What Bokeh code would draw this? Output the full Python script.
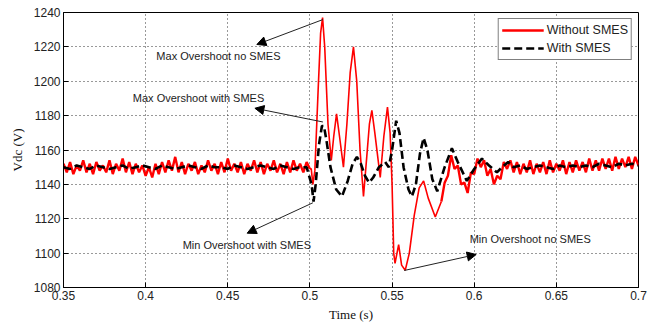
import numpy as np
from bokeh.plotting import figure
from bokeh.models import (Range1d, FixedTicker, Legend, LegendItem,
                          Arrow, NormalHead, Label)
from bokeh.embed import file_html
from bokeh.resources import INLINE

# ---------------- data ----------------
x_ticks = [0.35, 0.4, 0.45, 0.5, 0.55, 0.6, 0.65, 0.7]
x_tick_labels = ["0.35", "0.4", "0.45", "0.5", "0.55", "0.6", "0.65", "0.7"]
y_ticks = [1080, 1100, 1120, 1140, 1160, 1180, 1200, 1220, 1240]
y_tick_labels = ["1080", "1100", "1120", "1140", "1160", "1180", "1200", "1220", "1240"]

# Without SMES (red) -- steady part before the fault, sampled every 0.002 s from 0.350
red_pre_start, red_pre_step = 0.350, 0.002
red_pre_v = [1152, 1147, 1153, 1146, 1151, 1148, 1154, 1147, 1152, 1146,
             1153, 1148, 1151, 1147, 1154, 1146, 1152, 1148, 1155, 1147,
             1153, 1146, 1152, 1147, 1151, 1145, 1150, 1144, 1152, 1146,
             1153, 1147, 1154, 1148, 1156, 1147, 1153, 1146, 1152, 1148,
             1153, 1146, 1151, 1147, 1154, 1148, 1152, 1146, 1153, 1147,
             1155, 1148, 1152, 1147, 1153, 1146, 1152, 1148, 1154, 1147,
             1153, 1146, 1152, 1148, 1154, 1147, 1152, 1146, 1153, 1147,
             1154, 1148, 1152, 1147, 1153, 1149]
# transient
red_mid_t = [0.5000, 0.5008, 0.5018, 0.5030, 0.5050, 0.5065, 0.5077, 0.5090, 0.5110, 0.5130,
             0.5145, 0.5162, 0.5180, 0.5204, 0.5225, 0.5245, 0.5265, 0.5285, 0.5305,
             0.5326, 0.5345, 0.5362, 0.5377, 0.5395, 0.5428, 0.5450, 0.5472, 0.5488,
             0.5500, 0.5510, 0.5518, 0.5540, 0.5558, 0.5580, 0.5605, 0.5635, 0.5665,
             0.5692, 0.5720, 0.5763, 0.5800]
red_mid_v = [1149, 1149, 1140, 1148, 1195, 1228, 1237, 1220, 1175, 1154,
             1168, 1181, 1168, 1150, 1175, 1205, 1220, 1200, 1160,
             1133, 1155, 1175, 1183, 1170, 1144, 1168, 1185, 1170,
             1140, 1100, 1094, 1105, 1093, 1090, 1100, 1122, 1138,
             1142, 1132, 1121, 1130]
# recovery, sampled every 0.002 s from 0.580
red_post_start, red_post_step = 0.580, 0.002
red_post_v = [1130, 1141, 1145, 1157, 1149, 1151, 1140, 1141, 1135, 1147,
              1146, 1155, 1150, 1154, 1145, 1149, 1140, 1145, 1143, 1153,
              1149, 1154, 1147, 1153, 1146, 1152, 1147, 1154, 1146, 1152,
              1147, 1153, 1146, 1154, 1147, 1152, 1148, 1154, 1146, 1153,
              1147, 1154, 1148, 1153, 1147, 1155, 1148, 1154, 1148, 1155,
              1149, 1155, 1148, 1156, 1149, 1155, 1150, 1156, 1149, 1156,
              1151]

# With SMES (black dashed)
black_pre_start, black_pre_step = 0.350, 0.004
black_pre_v = [1150, 1149, 1151, 1150, 1149, 1151, 1150, 1149, 1150, 1151,
               1149, 1150, 1151, 1150, 1149, 1151, 1150, 1149, 1150, 1151,
               1150, 1149, 1151, 1150, 1150, 1149, 1151, 1150, 1149, 1150,
               1151, 1150, 1149, 1151, 1150, 1149, 1150, 1150]
black_mid_t = [0.5010, 0.5022, 0.5035, 0.5055, 0.5073, 0.5085, 0.5100, 0.5125, 0.5160,
               0.5195, 0.5230, 0.5260, 0.5286, 0.5310, 0.5335, 0.5360, 0.5385, 0.5420,
               0.5458, 0.5480, 0.5500, 0.5525, 0.5545, 0.5570, 0.5600, 0.5621, 0.5645,
               0.5670, 0.5692, 0.5715, 0.5745, 0.5775, 0.5820, 0.5864, 0.5900, 0.5955,
               0.6000, 0.6047, 0.6090, 0.6138, 0.6170, 0.6207]
black_mid_v = [1140, 1130, 1140, 1163, 1174, 1174, 1166, 1150, 1137,
               1133, 1142, 1152, 1156, 1152, 1145, 1141, 1144, 1150,
               1153, 1150, 1160, 1177, 1170, 1150, 1137, 1133, 1140,
               1158, 1167, 1160, 1143, 1136, 1150, 1161, 1153, 1142,
               1149, 1155, 1151, 1147, 1150, 1153]
black_post_start, black_post_step = 0.624, 0.004
black_post_v = [1150, 1151, 1149, 1150, 1151, 1150, 1149, 1151, 1150, 1151,
                1150, 1151, 1150, 1152, 1151, 1150, 1152, 1151, 1152, 1151]

series_labels = ["Without SMES", "With SMES"]

# annotations (text, text position, arrow tail on curve, arrow head)
ann_text = ["Max Overshoot no SMES", "Max Overshoot with SMES",
            "Min Overshoot with SMES", "Min Overshoot no SMES"]
ann_tx = [0.4443, 0.4322, 0.4616, 0.6341]
ann_ty = [1214.7, 1190.5, 1104.9, 1108.0]
arr_x0 = [0.5079, 0.5079, 0.5018, 0.5574]
arr_y0 = [1235.9, 1176.3, 1129.3, 1089.9]
arr_x1 = [0.4677, 0.4665, 0.4618, 0.6012]
arr_y1 = [1221.4, 1184.3, 1111.6, 1099.2]

# ---------------- assemble series ----------------
red_pre_t = red_pre_start + red_pre_step * np.arange(len(red_pre_v))
red_post_t = red_post_start + red_post_step * np.arange(len(red_post_v))
black_t = np.concatenate([black_pre_start + black_pre_step * np.arange(len(black_pre_v)),
                          np.array(black_mid_t),
                          black_post_start + black_post_step * np.arange(len(black_post_v))])
black_v = np.concatenate([black_pre_v, black_mid_v, black_post_v]).astype(float)

# ---------------- figure ----------------
p = figure(width=656, height=325, output_backend="svg", toolbar_location=None,
           x_range=Range1d(0.35, 0.7), y_range=Range1d(1080, 1240),
           min_border_left=63, min_border_right=18, min_border_top=12, min_border_bottom=38,
           background_fill_color="white", border_fill_color="white")
p.outline_line_color = "black"
p.outline_line_alpha = 1.0

r_red = p.line(red_pre_t, red_pre_v, line_color="#ff0000", line_width=2.4)
p.line(red_mid_t, red_mid_v, line_color="#ff0000", line_width=1.6)
p.line(red_post_t, red_post_v, line_color="#ff0000", line_width=2.4)
r_black = p.line(black_t, black_v, line_color="black", line_width=2.6, line_dash="8 4")

p.xaxis.ticker = FixedTicker(ticks=x_ticks)
p.xaxis.major_label_overrides = {t: s for t, s in zip(x_ticks, x_tick_labels)}
p.yaxis.ticker = FixedTicker(ticks=y_ticks)
p.yaxis.major_label_overrides = {t: s for t, s in zip(y_ticks, y_tick_labels)}

for ax in (p.xaxis[0], p.yaxis[0]):
    ax.axis_line_color = "black"
    ax.major_tick_line_color = "black"
    ax.major_tick_in = 5
    ax.major_tick_out = 0
    ax.minor_tick_line_color = None
    ax.major_label_text_font = "Liberation Sans"
    ax.major_label_text_font_size = "12px"
    ax.major_label_text_color = "#222222"
    ax.major_label_standoff = 3
    ax.axis_label_text_font = "Liberation Serif"
    ax.axis_label_text_font_size = "13px"
    ax.axis_label_text_font_style = "normal"
    ax.axis_label_text_color = "#111111"

p.xaxis.axis_label = "Time (s)"
p.xaxis.axis_label_standoff = 4
p.yaxis.axis_label = "Vdc (V)"
p.yaxis.axis_label_standoff = 6

p.grid.grid_line_color = "#333333"
p.grid.grid_line_dash = "1 3"
p.grid.grid_line_width = 1

legend = Legend(items=[LegendItem(label=series_labels[0], renderers=[r_red]),
                       LegendItem(label=series_labels[1], renderers=[r_black])],
                location="top_right", margin=6, padding=3, spacing=2,
                glyph_width=42, glyph_height=16, label_height=16, label_standoff=3,
                label_text_font="Liberation Sans", label_text_font_size="12.5px",
                label_text_color="#222222", border_line_color="black",
                border_line_width=1, background_fill_color="white",
                background_fill_alpha=1.0)
p.add_layout(legend)

for i in range(len(ann_text)):
    p.add_layout(Arrow(end=NormalHead(size=9, fill_color="black", line_color="black"),
                       x_start=arr_x0[i], y_start=arr_y0[i],
                       x_end=arr_x1[i], y_end=arr_y1[i],
                       line_color="#222222", line_width=1))
    p.add_layout(Label(x=ann_tx[i], y=ann_ty[i], text=ann_text[i],
                       text_align="center", text_baseline="middle",
                       text_font="Liberation Sans", text_font_size="11px",
                       text_color="#222222"))

open("out.html", "w").write(file_html(p, INLINE))
